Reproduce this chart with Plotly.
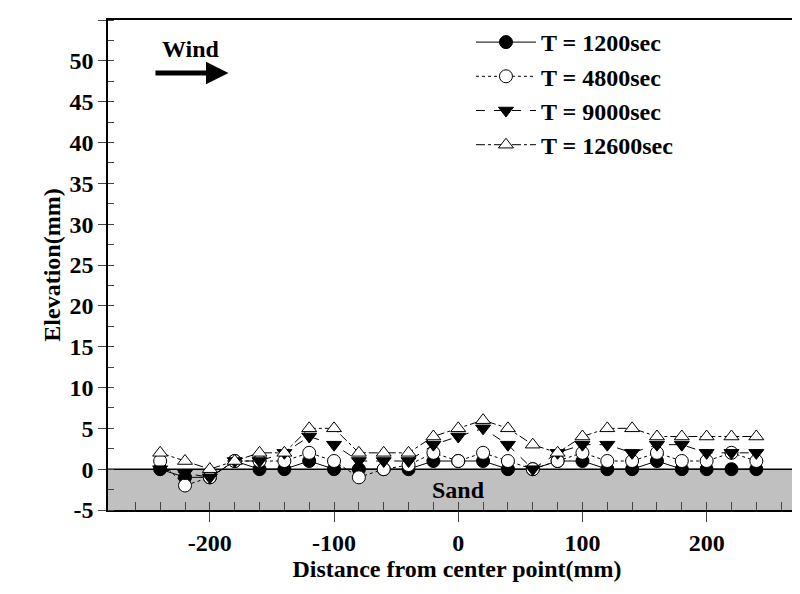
import plotly.graph_objects as go

x = list(range(-240, 241, 20))
t1200 = [0, -1, -1, 1, 0, 0, 1, 0, 0, 0, 0, 1, 1, 1, 0, 0, 1, 1, 0, 0, 1, 0, 0, 0, 0]
t4800 = [1, -2, -1, 1, 1, 1, 2, 1, -1, 0, 0.5, 2, 1, 2, 1, 0, 1, 2, 1, 1, 2, 1, 1, 2, 1]
t9000 = [0, -0.5, -1, 1, 1, 2, 4, 3, 1, 1, 1, 3, 4, 5, 3, 0, 2, 3, 3, 2, 3, 3, 2, 2, 2]
t12600 = [2, 1, 0, 1, 2, 2, 5, 5, 2, 2, 2, 4, 5, 6, 5, 3, 2, 4, 5, 5, 4, 4, 4, 4, 4]
names = ["T = 1200sec", "T = 4800sec", "T = 9000sec", "T = 12600sec"]
xticks = [-200, -100, 0, 100, 200]
yticks = list(range(-5, 56, 5))

F = "Liberation Serif"
fig = go.Figure()
fig.add_shape(type="rect", xref="x", yref="y", x0=-282, x1=280, y0=-5, y1=0,
              fillcolor="#c0c0c0", line=dict(width=0), layer="below")
fig.add_shape(type="line", xref="x", yref="y", x0=-282, x1=280, y0=0, y1=0,
              line=dict(color="black", width=1.5), layer="below")
styles = [
    (t1200, "solid", "circle", "black"),
    (t4800, "dot", "circle", "white"),
    (t9000, "dash", "triangle-down", "black"),
    (t12600, "dashdot", "triangle-up", "white"),
]
for (ys, dash, sym, c), n in zip(styles, names):
    fig.add_trace(go.Scatter(x=x, y=ys, name="<b>" + n + "</b>", mode="lines+markers",
                             line=dict(color="black", width=1, dash=dash),
                             marker=dict(symbol=sym, size=13, color=c,
                                         line=dict(color="black", width=1))))
fig.add_annotation(x=-240, y=51.5, xanchor="left", text="<b>Wind</b>", showarrow=False,
                   font=dict(family=F, size=24, color="black"))
fig.add_annotation(x=-185, y=48.5, ax=-245, ay=48.5, axref="x", ayref="y", text="", showarrow=True,
                   arrowhead=2, arrowsize=0.9, arrowwidth=5, arrowcolor="black")
fig.add_annotation(x=0, y=-2.5, text="<b>Sand</b>", showarrow=False, font=dict(family=F, size=24, color="black"))
fig.update_layout(
    width=800, height=594, plot_bgcolor="white", paper_bgcolor="white",
    margin=dict(l=100, r=2, t=12, b=92, autoexpand=False),
    font=dict(family=F, size=22, color="black"),
    legend=dict(x=0.52, y=1.0, xanchor="left", yanchor="top", bgcolor="rgba(0,0,0,0)",
                font=dict(family=F, size=24), itemwidth=60, tracegroupgap=0),
)
fig.update_xaxes(range=[-282, 280], tickvals=xticks, ticktext=[f"<b>{v}</b>" for v in xticks],
                 ticks="outside", ticklen=10, automargin=False,
                 showgrid=False, zeroline=False, showline=True, linecolor="black", linewidth=1.5, mirror=True,
                 tickfont=dict(family=F, size=24), minor=dict(tickvals=list(range(-260, 261, 20)), ticks="inside", ticklen=8),
                 title=dict(text="<b>Distance from center point(mm)</b>", font=dict(family=F, size=24), standoff=6))
fig.update_yaxes(range=[-5, 55], tickvals=yticks, ticktext=[f"<b>{v}</b>" for v in yticks],
                 ticks="outside", ticklen=8, showgrid=False, zeroline=False, automargin=False,
                 showline=True, linecolor="black", linewidth=1.5, mirror=True,
                 tickfont=dict(family=F, size=24), minor=dict(dtick=2.5, ticks="inside", ticklen=6),
                 title=dict(text="<b>Elevation(mm)</b>", font=dict(family=F, size=24), standoff=2))
fig.write_html("out.html")
